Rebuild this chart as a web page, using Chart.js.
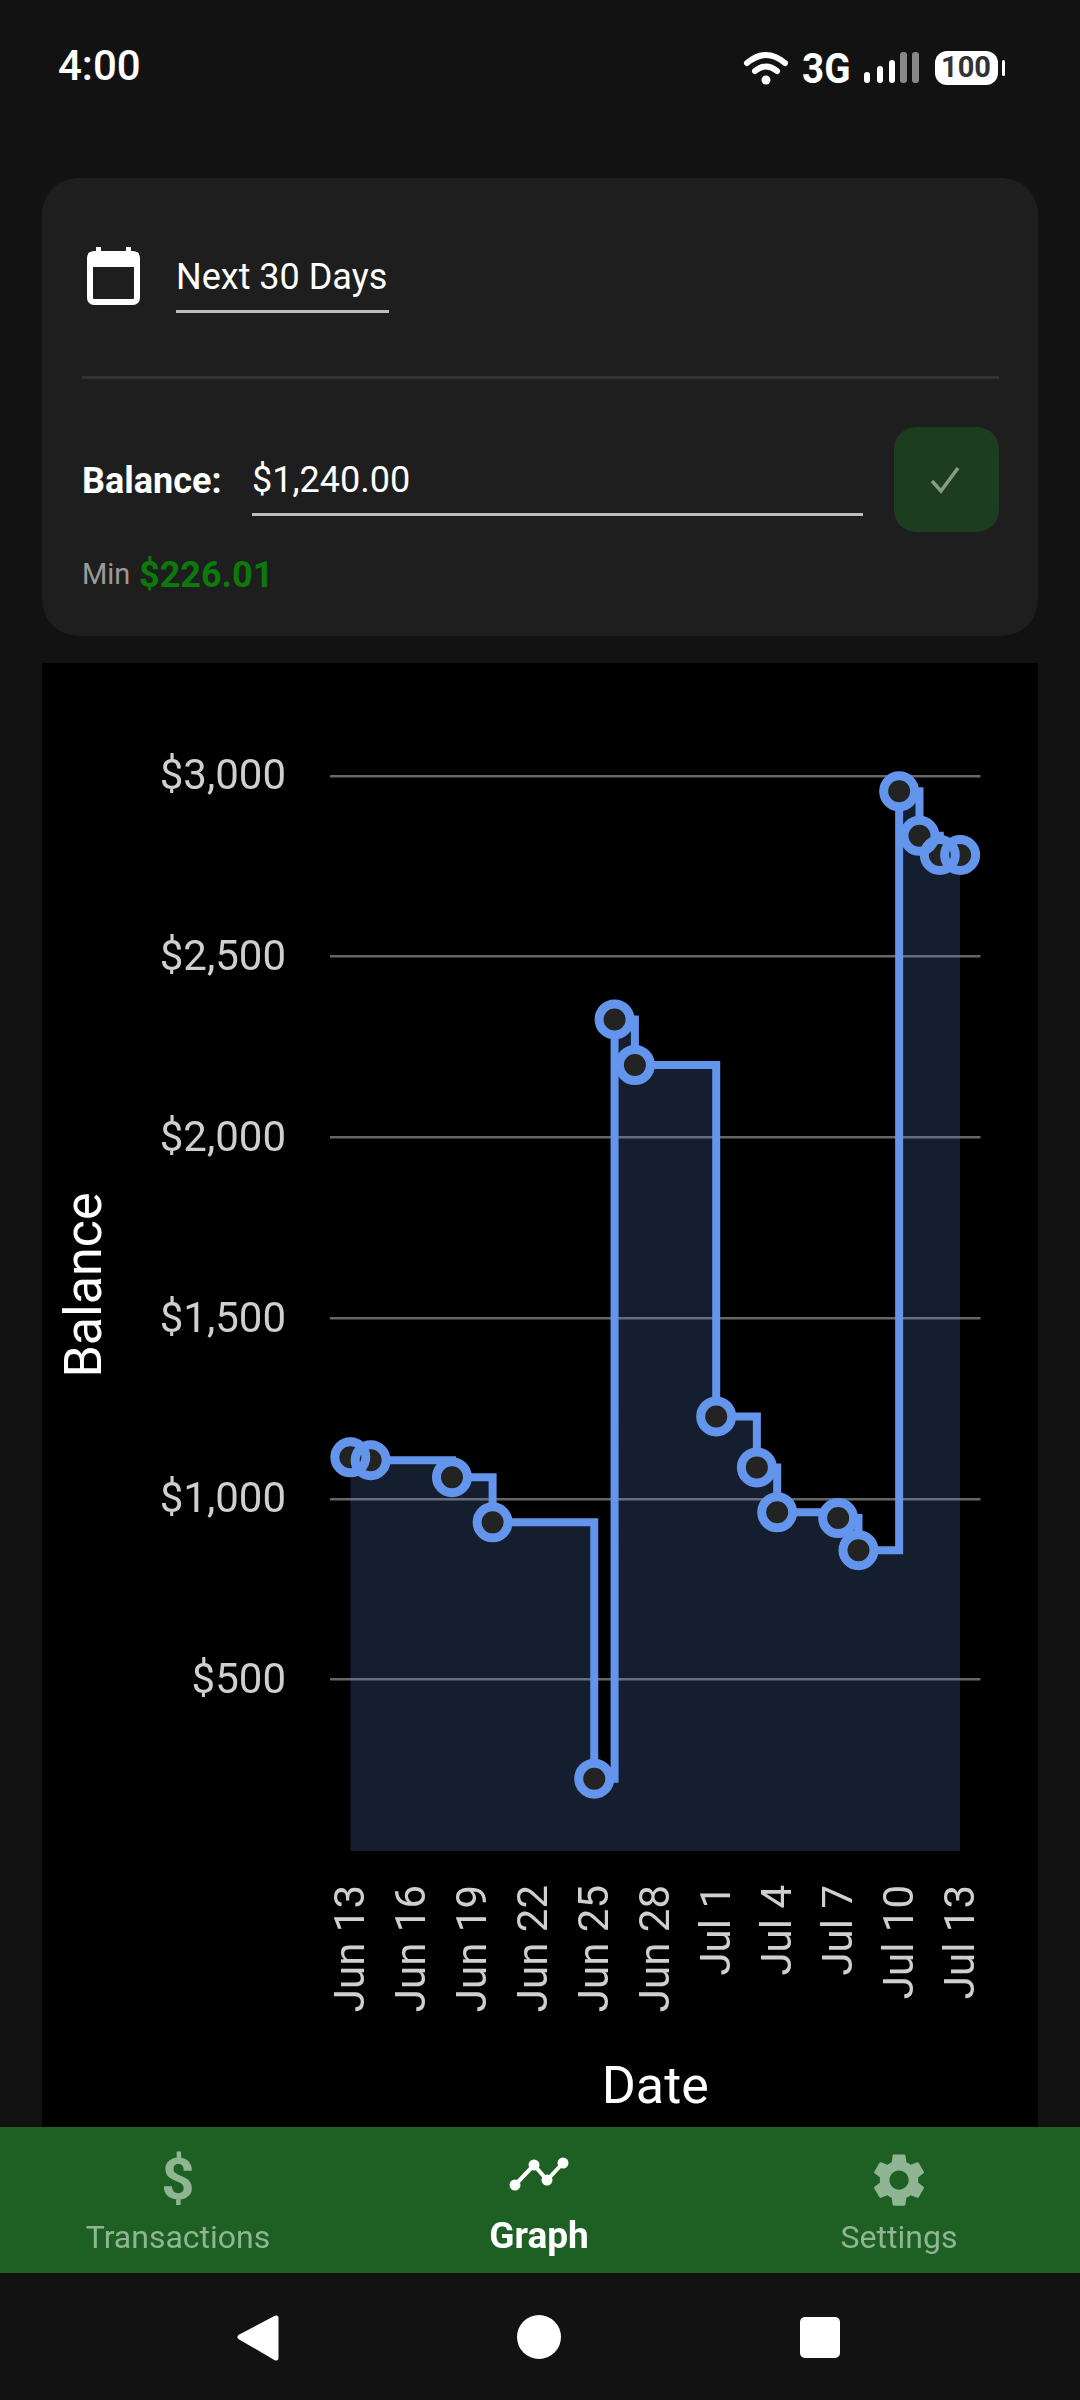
<!DOCTYPE html>
<html>
<head>
<meta charset="utf-8">
<title>Graph</title>
<script src="https://cdn.jsdelivr.net/npm/chart.js@4"></script>
<style>
  html, body { margin: 0; padding: 0; background: #121212; }
  body { width: 1080px; height: 2400px; position: relative; overflow: hidden; font-family: Roboto, sans-serif; color: #fff; }
  .abs { position: absolute; }
  .txt { position: absolute; white-space: nowrap; line-height: 1; }
  .navlabel { position: absolute; width: 300px; text-align: center; font-size: 32px; line-height: 1; color: #8fb592; }
  svg { position: absolute; overflow: visible; }
</style>
</head>
<body>

<!-- status bar -->
<div class="txt" style="left:58px;top:45px;font-size:42px;font-weight:500;">4:00</div>
<svg style="left:0;top:0;" width="1080" height="100">
  <path d="M747 63 Q766 47 785 63" fill="none" stroke="#fff" stroke-width="6" stroke-linecap="round"/>
  <path d="M755 71 Q766 62 777 71" fill="none" stroke="#fff" stroke-width="6" stroke-linecap="round"/>
  <circle cx="766" cy="80" r="4.5" fill="#fff"/>
  <rect x="864" y="72" width="6" height="11" rx="3" fill="#fff"/>
  <rect x="877" y="66" width="6" height="17" rx="3" fill="#fff"/>
  <rect x="889" y="60" width="6" height="23" rx="3" fill="#fff"/>
  <rect x="900" y="52" width="7" height="31" rx="3" fill="#888"/>
  <rect x="912" y="52" width="7" height="31" rx="3" fill="#888"/>
  <rect x="935" y="51" width="63" height="34" rx="12" fill="#fff"/>
  <rect x="1002" y="60" width="3" height="16" rx="1.5" fill="#fff"/>
</svg>
<div class="txt" style="left:802px;top:48px;font-size:42px;font-weight:700;transform:scaleX(0.92);transform-origin:left;">3G</div>
<div class="txt" style="left:941px;top:53px;font-size:29px;font-weight:700;color:#333;">100</div>

<!-- range / balance card -->
<div class="abs" style="left:42px;top:178px;width:996px;height:458px;background:#1e1e1e;border-radius:36px;"></div>
<div class="abs" style="left:894px;top:427px;width:105px;height:105px;background:#1c3d1f;border-radius:22px;"></div>
<svg style="left:0;top:0;" width="1080" height="640">
  <rect x="90" y="254" width="47" height="48" rx="4" fill="none" stroke="#fff" stroke-width="6"/>
  <rect x="88" y="252" width="51" height="15" rx="3" fill="#fff"/>
  <rect x="96" y="247" width="5" height="10" fill="#fff"/>
  <rect x="126" y="247" width="5" height="10" fill="#fff"/>
  <path d="M932 481 L941 491 L958 468" fill="none" stroke="#8a9a8c" stroke-width="3.5"/>
</svg>
<div class="txt" style="left:176px;top:259px;font-size:36px;">Next 30 Days</div>
<div class="abs" style="left:176px;top:310px;width:213px;height:3px;background:#bdbdbd;"></div>
<div class="abs" style="left:82px;top:376px;width:917px;height:3px;background:#333;"></div>
<div class="txt" style="left:82px;top:463px;font-size:36px;font-weight:700;">Balance:</div>
<div class="txt" style="left:252px;top:462px;font-size:36px;">$1,240.00</div>
<div class="abs" style="left:252px;top:513px;width:611px;height:3px;background:#bdbdbd;"></div>
<div class="txt" style="left:82px;top:560px;font-size:29px;color:#9a9a9a;">Min</div>
<div class="txt" style="left:139px;top:557px;font-size:36px;font-weight:700;color:#0b7a0b;">$226.01</div>

<!-- chart -->
<div class="abs" style="left:42px;top:663px;width:996px;height:1464px;background:#000;">
  <canvas id="balanceChart" width="996" height="1464" style="display:block;width:996px;height:1464px;"></canvas>
</div>

<!-- bottom tabs -->
<div class="abs" style="left:0;top:2127px;width:1080px;height:146px;background:#1e5f24;"></div>
<div class="txt" style="left:128px;top:2150px;width:100px;text-align:center;font-size:58px;font-weight:700;color:#8fb592;">$</div>
<svg style="left:0;top:0;" width="1080" height="2400">
  <polyline points="515,2185 534,2165 547,2180 563,2163" fill="none" stroke="#fff" stroke-width="4"/>
  <circle cx="515" cy="2185" r="5.5" fill="#fff"/>
  <circle cx="534" cy="2165" r="5.5" fill="#fff"/>
  <circle cx="547" cy="2180" r="5.5" fill="#fff"/>
  <circle cx="563" cy="2163" r="5.5" fill="#fff"/>
  <path transform="translate(867 2148) scale(2.67)" fill="#8fb592" d="M19.14 12.94c.04-.3.06-.61.06-.94 0-.32-.02-.64-.07-.94l2.03-1.58c.18-.14.23-.41.12-.61l-1.92-3.32c-.12-.22-.37-.29-.59-.22l-2.39.96c-.5-.38-1.03-.7-1.62-.94l-.36-2.54c-.04-.24-.24-.41-.48-.41h-3.84c-.24 0-.43.17-.47.41l-.36 2.54c-.59.24-1.13.57-1.62.94l-2.39-.96c-.22-.08-.47 0-.59.22L2.74 8.87c-.12.21-.08.47.12.61l2.03 1.58c-.05.3-.09.63-.09.94s.02.64.07.94l-2.03 1.58c-.18.14-.23.41-.12.61l1.92 3.32c.12.22.37.29.59.22l2.39-.96c.5.38 1.03.7 1.62.94l.36 2.54c.05.24.24.41.48.41h3.84c.24 0 .44-.17.47-.41l.36-2.54c.59-.24 1.13-.56 1.62-.94l2.39.96c.22.08.47 0 .59-.22l1.92-3.32c.12-.22.07-.47-.12-.61l-2.01-1.58zM12 15.6c-1.98 0-3.6-1.62-3.6-3.6s1.62-3.6 3.6-3.6 3.6 1.62 3.6 3.6-1.62 3.6-3.6 3.6z"/>
  <!-- system nav -->
  <path d="M276 2318 L276 2358 L240 2337 Z" fill="#fff" stroke="#fff" stroke-width="5" stroke-linejoin="round"/>
  <circle cx="539" cy="2337" r="22" fill="#fff"/>
  <rect x="800" y="2317" width="40" height="41" rx="5" fill="#fff"/>
</svg>
<div class="navlabel" style="left:28px;top:2221px;">Transactions</div>
<div class="navlabel" style="left:389px;top:2217px;font-weight:700;color:#fff;font-size:37px;">Graph</div>
<div class="navlabel" style="left:749px;top:2221px;">Settings</div>

<script>
// every day on the x axis, one spare day each side
const axisDays = ["Jun 12", "Jun 13", "Jun 14", "Jun 15", "Jun 16", "Jun 17", "Jun 18", "Jun 19", "Jun 20", "Jun 21", "Jun 22",
    "Jun 23", "Jun 24", "Jun 25", "Jun 26", "Jun 27", "Jun 28", "Jun 29", "Jun 30", "Jul 1", "Jul 2", "Jul 3", "Jul 4",
    "Jul 5", "Jul 6", "Jul 7", "Jul 8", "Jul 9", "Jul 10", "Jul 11", "Jul 12", "Jul 13", "Jul 14"];
const tickDays = ["Jun 13", "Jun 16", "Jun 19", "Jun 22", "Jun 25", "Jun 28", "Jul 1", "Jul 4", "Jul 7", "Jul 10", "Jul 13"];
const yTicks = [500, 1000, 1500, 2000, 2500, 3000];

// days that have a transaction and the balance after it
const pointDays = ["Jun 13", "Jun 14", "Jun 18", "Jun 20", "Jun 25", "Jun 26", "Jun 27", "Jul 1",
    "Jul 3", "Jul 4", "Jul 7", "Jul 8", "Jul 10", "Jul 11", "Jul 12", "Jul 13"];
const balances = [1115, 1107, 1060, 935, 226.01, 2326, 2200, 1228, 1087, 963, 947, 858, 2957, 2834, 2781, 2781];

const blue = "#6495ED";
const points = pointDays.map((d, i) => ({ x: d, y: balances[i] }));

new Chart(document.getElementById("balanceChart"), {
    type: "line",
    data: {
        labels: axisDays,
        // chart.js paints the last dataset first, so rings go first here to end up on top
        datasets: [
            {
                data: points,
                showLine: false,
                pointRadius: 15.5,
                pointBorderWidth: 9,
                pointBorderColor: blue,
                pointBackgroundColor: "transparent",
                clip: false,
            },
            {
                // dot centres, painted before the rings so overlapping rings both show
                data: points,
                showLine: false,
                pointRadius: 15,
                pointBorderWidth: 0,
                pointBackgroundColor: "#232323",
                clip: false,
            },
            {
                // the stepped line and the area under it
                data: points,
                stepped: true,
                borderColor: blue,
                borderWidth: 8,
                backgroundColor: "rgba(100, 149, 237, 0.2)",
                fill: "start",
                pointRadius: 0,
                clip: false,
            },
        ],
    },
    options: {
        responsive: false,
        animation: false,
        devicePixelRatio: 1,
        layout: { padding: { top: 56, right: 47, left: 0, bottom: 0 } },
        plugins: { legend: { display: false }, tooltip: { enabled: false } },
        scales: {
            x: {
                type: "category",
                offset: false,
                grid: { display: false },
                border: { display: false },
                afterFit: (scale) => { scale.height = 276; scale.paddingTop = 0; scale.paddingBottom = 0; },
                ticks: {
                    autoSkip: false,
                    minRotation: 90,
                    maxRotation: 90,
                    padding: 26,
                    labelOffset: 3,
                    color: "#cfcfcf",
                    font: { family: "Roboto", size: 42 },
                    callback: function (value) {
                        const label = this.getLabelForValue(value);
                        return tickDays.includes(label) ? label : null;
                    },
                },
                title: {
                    display: true,
                    text: "Date",
                    color: "#ffffff",
                    font: { family: "Roboto", size: 52 },
                    padding: { top: 0, bottom: 6 },
                },
            },
            y: {
                min: 26.01,
                max: 3157,
                border: { display: false },
                grid: { color: "#666666", lineWidth: 2.5, drawTicks: false },
                afterFit: (scale) => { scale.width = 288; scale.paddingTop = 0; scale.paddingBottom = 0; },
                afterBuildTicks: (scale) => { scale.ticks = yTicks.map((v) => ({ value: v })); },
                ticks: {
                    padding: 44,
                    labelOffset: 3,
                    color: "#cfcfcf",
                    font: { family: "Roboto", size: 42 },
                    callback: (value) => "$" + value.toLocaleString("en-US"),
                },
                title: {
                    display: true,
                    text: "Balance",
                    color: "#ffffff",
                    font: { family: "Roboto", size: 52 },
                    padding: { top: 15, bottom: 0 },
                },
            },
        },
    },
});
</script>
</body>
</html>
